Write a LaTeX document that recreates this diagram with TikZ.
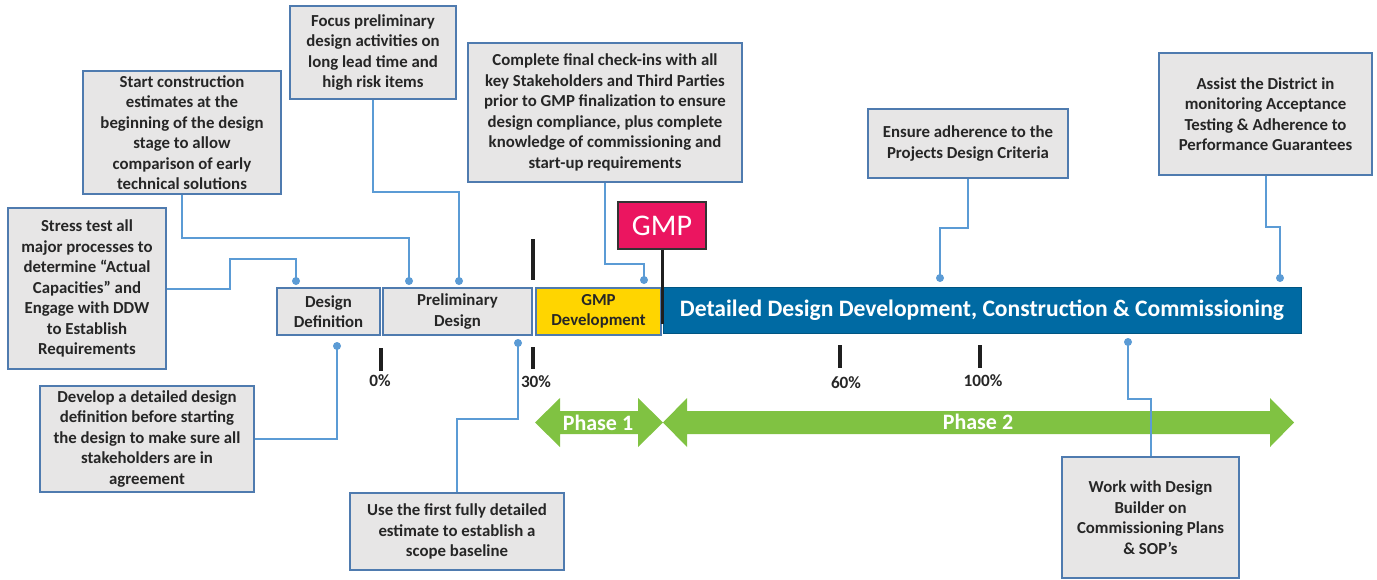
\documentclass[tikz,border=0pt]{standalone}
\usepackage{fontspec}
\setmainfont{Carlito}
\definecolor{boxfill}{HTML}{E7E6E6}
\definecolor{boxline}{HTML}{4F7BAF}
\definecolor{connblue}{HTML}{5B9BD5}
\definecolor{txt}{HTML}{262626}
\definecolor{barblue}{HTML}{006AA3}
\definecolor{gmpyel}{HTML}{FFD500}
\definecolor{gmpred}{HTML}{EB1560}
\definecolor{phgreen}{HTML}{80C242}
\begin{document}
\begin{tikzpicture}[x=1pt,y=-1pt,
  note/.style={draw=boxline, line width=1.6pt, fill=boxfill, align=center, inner sep=0pt, text=txt,
    font=\fontsize{16.8}{20.5}\selectfont\bfseries},
  phasebar/.style={draw=boxline, line width=1.6pt, align=center, inner sep=0pt, text=txt,
    font=\fontsize{16.8}{20.5}\selectfont\bfseries},
  conn/.style={draw=connblue, line width=2pt},
  dot/.style={circle, fill=connblue, inner sep=0pt, minimum size=8pt},
  tick/.style={draw=black!88, line width=4pt},
  pct/.style={font=\fontsize{17.2}{20}\selectfont\bfseries, text=txt, inner sep=0pt},
  phasetxt/.style={font=\fontsize{22}{26}\selectfont\bfseries, text=white, inner sep=0pt}]
\useasboundingbox (0,0) rectangle (1377,579);

% timeline bars
\node[phasebar, fill=boxfill, minimum width=103pt, minimum height=47pt] (dd) at (328.5,311.5) {Design\\Definition};
\node[phasebar, fill=boxfill, minimum width=149pt, minimum height=47pt] (pd) at (457.5,311.5) {Preliminary\\Design};
\node[phasebar, fill=gmpyel, minimum width=125pt, minimum height=47pt] (gd) at (598.5,311.5) {GMP\\Development};
\node[draw=barblue!80!black, line width=1pt, fill=barblue, inner sep=0pt, minimum width=638pt, minimum height=46pt,
  text=white, font=\fontsize{23.6}{27}\selectfont\bfseries] (ddd) at (982,310) {Detailed Design Development, Construction \& Commissioning};

% GMP marker
\node[draw=black!80, line width=1.6pt, fill=gmpred, inner sep=0pt, minimum width=88pt, minimum height=47pt,
  text=white, font=\fontsize{30}{34}\selectfont] (gmp) at (662,225.5) {GMP};
\draw[black!88, line width=3pt] (gmp.south) -- (662,324);

% ticks
\draw[tick] (533,239) -- (533,280);
\draw[tick] (381,348) -- (381,371);
\draw[tick] (533,347) -- (533,369);
\draw[tick] (840,345) -- (840,368);
\draw[tick] (980,345) -- (980,368);
\node[pct] (p0) at (380,381) {0\%};
\node[pct] (p30) at (536,382) {30\%};
\node[pct] (p60) at (846,383) {60\%};
\node[pct] (p100) at (983,381) {100\%};

% phase arrows
\fill[phgreen] (535,422.5) -- (560,398) -- (560,411) -- (638,411) -- (638,398) -- (663,422.5)
  -- (638,447) -- (638,434) -- (560,434) -- (560,447) -- cycle;
\fill[phgreen] (663,422.5) -- (687,398) -- (687,411) -- (1270,411) -- (1270,398) -- (1294,422.5)
  -- (1270,447) -- (1270,434) -- (687,434) -- (687,447) -- cycle;
\node[phasetxt] (ph1) at (598,423) {Phase 1};
\node[phasetxt] (ph2) at (978,422) {Phase 2};

% notes
\node[note, minimum width=158pt, minimum height=161pt] (stress) at (87,288.5)
  {Stress test all\\major processes to\\determine “Actual\\Capacities” and\\Engage with DDW\\to Establish\\Requirements};
\node[note, minimum width=214pt, minimum height=106pt] (develop) at (147,439)
  {Develop a detailed design\\definition before starting\\the design to make sure all\\stakeholders are in\\agreement};
\node[note, minimum width=198pt, minimum height=123pt] (start) at (182,132.5)
  {Start construction\\estimates at the\\beginning of the design\\stage to allow\\comparison of early\\technical solutions};
\node[note, minimum width=166pt, minimum height=93pt] (focus) at (373,52.5)
  {Focus preliminary\\design activities on\\long lead time and\\high risk items};
\node[note, minimum width=274pt, minimum height=139pt] (complete) at (605,112.5)
  {Complete final check-ins with all\\key Stakeholders and Third Parties\\prior to GMP finalization to ensure\\design compliance, plus complete\\knowledge of commissioning and\\start-up requirements};
\node[note, minimum width=200pt, minimum height=69pt] (ensure) at (968,143.5)
  {Ensure adherence to the\\Projects Design Criteria};
\node[note, minimum width=213pt, minimum height=122pt] (assist) at (1265.5,114)
  {Assist the District in\\monitoring Acceptance\\Testing \& Adherence to\\Performance Guarantees};
\node[note, minimum width=214pt, minimum height=77pt] (use) at (457,531.5)
  {Use the first fully detailed\\estimate to establish a\\scope baseline};
\node[note, minimum width=177pt, minimum height=121pt] (work) at (1150.5,517.5)
  {Work with Design\\Builder on\\Commissioning Plans\\\& SOP’s};

% connector end dots
\coordinate (d1) at (296,281);
\coordinate (d2) at (409,281);
\coordinate (d3) at (459,281);
\coordinate (d4) at (644,280);
\coordinate (d5) at (940,278);
\coordinate (d6) at (1280,278);
\coordinate (d7) at (337,346);
\coordinate (d8) at (518,343);
\coordinate (d9) at (1128,342);

% connectors
\draw[conn] (stress.east) -| (230,259) -| (d1);
\draw[conn] (start.south) -- ++(0,43) -| (d2);
\draw[conn] (focus.south) -- ++(0,92) -| (d3);
\draw[conn] (complete.south) -- ++(0,81) -| (d4);
\draw[conn] (ensure.south) -- ++(0,49) -| (d5);
\draw[conn] (assist.south) -- ++(0,51) -| (d6);
\draw[conn] (develop.east) -| (d7);
\draw[conn] (d8) -- ++(0,76) -| (use.north);
\draw[conn] (d9) -- ++(0,57) -| (work.north);
\foreach \d in {d1,d2,d3,d4,d5,d6,d7,d8,d9} \node[dot] at (\d) {};
\end{tikzpicture}
\end{document}
